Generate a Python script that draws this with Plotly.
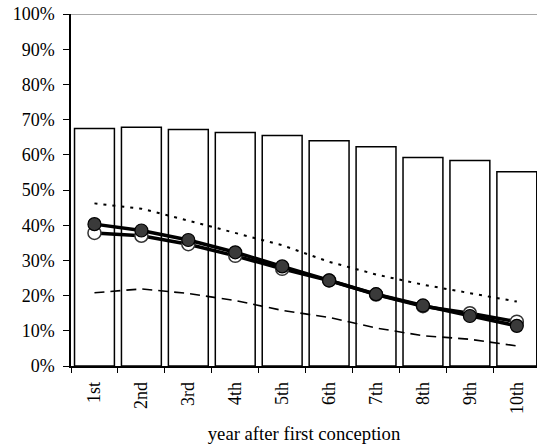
import plotly.graph_objects as go

categories = ["1st", "2nd", "3rd", "4th", "5th", "6th", "7th", "8th", "9th", "10th"]
bars = [67.5, 67.8, 67.2, 66.3, 65.5, 64.0, 62.3, 59.2, 58.4, 55.2]
filled = [40.3, 38.5, 35.8, 32.3, 28.3, 24.3, 20.4, 17.2, 14.2, 11.4]
opened = [37.8, 37.0, 34.6, 31.3, 27.6, 24.3, 20.3, 17.0, 15.0, 12.6]
dotted = [46.2, 44.7, 41.3, 37.8, 34.3, 29.6, 26.0, 23.1, 20.7, 18.3]
dashed = [20.8, 21.9, 20.6, 18.6, 15.8, 13.8, 10.8, 8.6, 7.6, 5.7]
yticks = [0, 10, 20, 30, 40, 50, 60, 70, 80, 90, 100]

font = "Liberation Serif, Times New Roman, serif"

fig = go.Figure()
fig.add_trace(go.Bar(x=categories, y=bars, marker=dict(color="white", line=dict(color="black", width=1.5)),
                     showlegend=False))
fig.add_trace(go.Scatter(x=categories, y=dotted, mode="lines",
                         line=dict(color="black", width=2, dash="3px,6px"), showlegend=False))
fig.add_trace(go.Scatter(x=categories, y=dashed, mode="lines",
                         line=dict(color="black", width=1.6, dash="10px,6px"), showlegend=False))
fig.add_trace(go.Scatter(x=categories, y=opened, mode="lines+markers",
                         line=dict(color="black", width=3.5),
                         marker=dict(size=13, color="white", line=dict(color="#333", width=1.5)),
                         showlegend=False))
fig.add_trace(go.Scatter(x=categories, y=filled, mode="lines+markers",
                         line=dict(color="black", width=3.5),
                         marker=dict(size=13, color="#3a3a3a", line=dict(color="black", width=1.2)),
                         showlegend=False))

fig.add_shape(type="line", xref="paper", yref="y", x0=0, x1=1, y0=100, y1=100,
              line=dict(color="#8a8a8a", width=1.5))

fig.update_layout(
    width=537, height=448,
    margin=dict(l=71, r=0, t=14, b=82),
    paper_bgcolor="white", plot_bgcolor="white",
    bargap=0.15,
    font=dict(family=font, size=18, color="black"),
)
fig.update_xaxes(
    range=[-0.5, 9.43], tickson="boundaries", ticks="outside", ticklen=5, tickwidth=1.2,
    tickcolor="black", showline=True, linecolor="black", linewidth=1.5,
    tickangle=-90, showgrid=False, ticklabelstandoff=7,
    title=dict(text="year after first conception", font=dict(family=font, size=18.7), standoff=14),
    tickfont=dict(family=font, size=18),
)
fig.update_yaxes(
    range=[0, 100], tickvals=yticks, ticktext=[f"{v}%" for v in yticks],
    ticks="outside", ticklen=6, tickwidth=1.2, tickcolor="black", ticklabelstandoff=5,
    showline=True, linecolor="black", linewidth=1.5, showgrid=False, zeroline=False,
    tickfont=dict(family=font, size=18),
)

fig.write_html("out.html")
